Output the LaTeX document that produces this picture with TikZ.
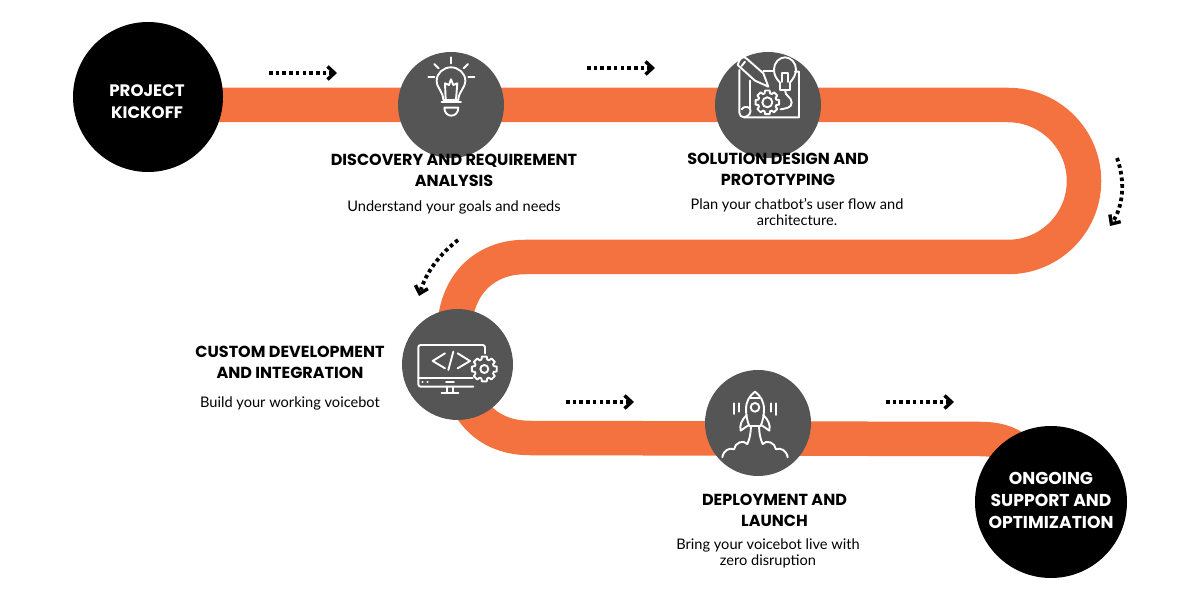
\documentclass[tikz,border=0pt]{standalone}
\usepackage{fontspec}
\setmainfont{Lato}
\newfontfamily\headfont{Poppins}
\usetikzlibrary{arrows.meta,positioning,backgrounds}

\definecolor{ribboncolor}{HTML}{F37240}
\definecolor{stepgray}{HTML}{555555}

\newcommand{\gearwheel}[3]{%
  \begin{scope}[shift={(#1)}]
    \draw (-11:#2) \foreach \a in {0,45,...,315}{ -- (\a-11:#2) -- (\a+11:#2) -- (\a+17:.78*#2) -- (\a+28:.78*#2)} -- cycle;
    \draw (0,0) circle[radius=#3];
  \end{scope}}

\begin{document}
\begin{tikzpicture}[x=1pt, y=1pt, node distance=6pt]
    \tikzset{
      endcircle/.style={circle,fill=black,inner sep=0pt,minimum size=#1},
      endtext/.style={text=white,inner sep=0pt,align=center,font=\headfont\bfseries\fontsize{#1}{22}\selectfont},
      stepcircle/.style={circle,fill=stepgray,inner sep=0pt,minimum size=#1},
      steptitle/.style={align=center,inner sep=0pt,font=\headfont\bfseries\fontsize{16}{21}\selectfont},
      stepnote/.style={align=center,inner sep=0pt,font=\fontsize{14.6}{16}\selectfont},
      ribbon/.style={draw=ribboncolor,line width=34.5pt},
      dotarrow/.style={-{Straight Barb[length=7pt,width=13pt,line width=3.4pt]},line width=3.8pt,dash pattern=on 3.6pt off 3.1pt},
      icon/.style={draw=white,line width=1.9pt,x=.3333pt,y=-.3333pt,line cap=round,line join=round}
    }
    \useasboundingbox (0,0) rectangle (1200,600);

    \node[endcircle=150pt] (kickoff) at (148,503) {};        %start
    \node[stepcircle=106pt] (discovery) at (451,495) {};
    \node[stepcircle=106pt] (design) at (768,495) {};
    \node[stepcircle=111pt] (custom) at (457.5,235.5) {};
    \node[stepcircle=106pt] (deployment) at (758,177) {};
    \node[endcircle=152pt] (ongoing) at (1051,98) {};  %end
    \node[endtext=16.6] (kickofftext) at (147,498) {PROJECT\\KICKOFF};
    \node[endtext=17.2] (ongoingtext) at (1051,99.5) {ONGOING\\SUPPORT AND\\OPTIMIZATION};

    % titles and notes
    \node[steptitle] (discoverytitle) at (454,429.5) {DISCOVERY AND REQUIREMENT\\ANALYSIS};
    \node[stepnote] (discoverynote)[below=14pt of discoverytitle] {Understand your goals and needs};
    \node[steptitle] (designtitle) at (778,430.5) {SOLUTION DESIGN AND\\PROTOTYPING};
    \node[stepnote] (designnote) at (797,388) {Plan your chatbot's user flow and\\architecture.};
    \node[steptitle] (customtitle) at (290,237.5) {CUSTOM DEVELOPMENT\\AND INTEGRATION};
    \node[stepnote] (customnote)[below=18pt of customtitle] {Build your working voicebot};
    \node[steptitle] (deploymenttitle) at (774.5,89.5) {DEPLOYMENT AND\\LAUNCH};
    \node[stepnote] (deploymentnote) at (768,47) {Bring your voicebot live with\\zero disruption};

    % the band behind the circles
    \begin{pgfonlayer}{background}
      \draw[ribbon] (kickoff.center |- discovery) -- (discovery.center) -- (design.center) -- (1008,495)
        arc[start angle=90,end angle=-90,radius=76] -- (525,343)
        .. controls (478,343) and (443,305) .. (custom.center)
        .. controls (459,200) and (480,162) .. (530,162) -- (980,161)
        .. controls (1010,161) and (1030,150) .. (ongoing.center);
    \end{pgfonlayer}

    % dotted arrows
    \coordinate (a1) at (269,527);
    \coordinate (a2) at (337,527);
    \coordinate (b1) at (587,532);
    \coordinate (b2) at (655,532);
    \coordinate (c1) at (1117,442);
    \coordinate (c2) at (1110,374);
    \coordinate (d1) at (458,360);
    \coordinate (d2) at (419,304);
    \coordinate (e1) at (566,198);
    \coordinate (e2) at (634,198);
    \coordinate (f1) at (886,198);
    \coordinate (f2) at (954,198);
    \draw[dotarrow] (a1) -- (a2);
    \draw[dotarrow] (b1) -- (b2);
    \draw[dotarrow] (c1) .. controls (1125,420) and (1124,395) .. (c2);
    \draw[dotarrow] (d1) .. controls (440,346) and (426,328) .. (d2);
    \draw[dotarrow] (e1) -- (e2);
    \draw[dotarrow] (f1) -- (f2);

    % bulb
    \begin{scope}[shift={(380,560)},icon]
      \draw (190,180) .. controls (190,155) and (170,145) .. (170,122) .. controls (170,100) and (190,82) .. (213,82)
        .. controls (236,82) and (256,100) .. (256,122) .. controls (256,145) and (235,155) .. (235,180) -- cycle;
      \draw (197,178) -- (195,130) -- (207,135) -- (213,118) -- (220,135) -- (232,130) -- (228,178);
      \draw (185,187) -- (243,187);
      \draw (193,203) -- (235,203) .. controls (235,235) and (193,235) .. (193,203);
      \draw (213,52) -- (213,70);
      \draw (145,110) -- (163,110);
      \draw (265,110) -- (283,110);
      \draw (163,72) -- (176,85);
      \draw (264,72) -- (251,85);
    \end{scope}

    % blueprint
    \begin{scope}[shift={(700,560)},icon]
      \draw (118,90) -- (118,218) .. controls (118,226) and (124,232) .. (132,232) -- (297,232) -- (297,95) -- (285,95);
      \draw (190,93) -- (220,93);
      \draw (150,122) -- (150,205) .. controls (140,198) and (130,200) .. (125,208);
      \draw (150,205) .. controls (155,218) and (148,228) .. (132,232);
      \draw (118,62) .. controls (122,52) and (132,48) .. (140,56) -- (190,100) -- (205,140) -- (165,122) -- (113,75) -- cycle;
      \draw (125,78) -- (135,65);
      \draw (240,150) -- (240,128) .. controls (228,115) and (222,105) .. (222,88)
        .. controls (222,68) and (238,52) .. (255,52) .. controls (272,52) and (288,68) .. (288,88)
        .. controls (288,105) and (280,115) .. (270,128) -- (270,150) -- cycle;
      \draw (245,126) -- (245,98) -- (265,98) -- (265,126);
      \draw (255,150) .. controls (255,170) and (275,170) .. (275,188) .. controls (275,205) and (255,205) .. (242,208);
      \gearwheel{202,187}{36}{15}
    \end{scope}

    % monitor
    \begin{scope}[shift={(390,300)},icon]
      \draw (250,260) -- (92,260) .. controls (88,260) and (85,257) .. (85,253) -- (85,142) .. controls (85,138) and (88,135) .. (92,135)
        -- (278,135) .. controls (282,135) and (285,138) .. (285,142) -- (285,160);
      \draw (85,235) -- (248,235);
      \draw (97,245) -- (98,245);
      \draw (112,245) -- (113,245);
      \draw (168,245) -- (192,245);
      \draw (170,260) -- (170,277);
      \draw (190,260) -- (190,277);
      \draw (155,278) -- (205,278);
      \draw (165,160) -- (128,183) -- (165,205);
      \draw (190,155) -- (175,210);
      \draw (203,160) -- (240,183) -- (203,205);
      \gearwheel{283,207}{38}{12}
    \end{scope}

    % rocket
    \begin{scope}[shift={(690,230)},icon]
      \draw (195,65) .. controls (178,78) and (168,95) .. (168,118) .. controls (168,135) and (172,155) .. (178,168) -- (212,168)
        .. controls (218,155) and (222,135) .. (222,118) .. controls (222,95) and (212,78) .. (195,65) -- cycle;
      \draw (178,85) -- (212,85);
      \draw (195,112) circle[radius=13];
      \draw (170,135) .. controls (155,150) and (148,165) .. (152,182) .. controls (160,175) and (170,170) .. (177,165);
      \draw (220,135) .. controls (235,150) and (242,165) .. (238,182) .. controls (230,175) and (220,170) .. (213,165);
      \draw (183,168) .. controls (182,190) and (180,205) .. (172,222);
      \draw (207,168) .. controls (208,190) and (210,205) .. (218,222);
      \draw (97,262) .. controls (100,240) and (120,232) .. (132,238) .. controls (135,218) and (160,208) .. (172,222);
      \draw (293,262) .. controls (290,240) and (270,232) .. (258,238) .. controls (255,218) and (230,208) .. (218,222);
      \draw (133,100) -- (133,132);
      \draw (147,100) -- (147,125);
      \draw (243,100) -- (243,125);
      \draw (258,100) -- (258,135);
    \end{scope}

\end{tikzpicture}
\end{document}
